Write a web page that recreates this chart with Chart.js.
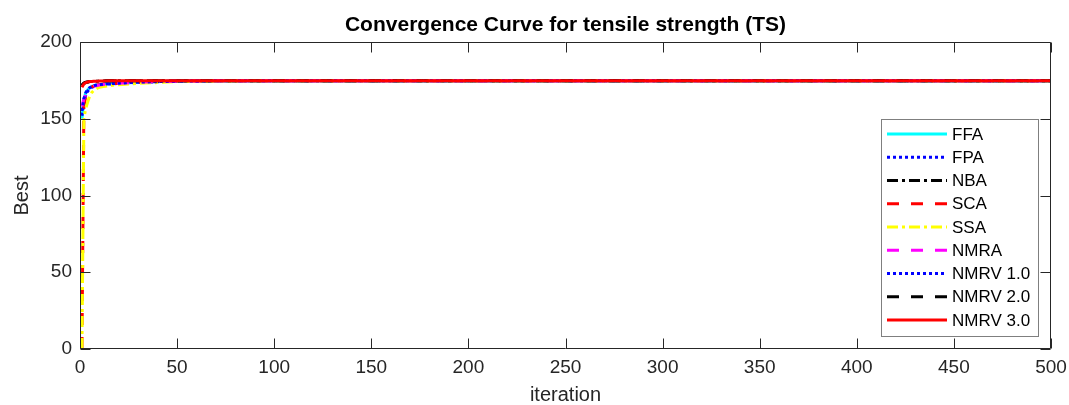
<!DOCTYPE html>
<html>
<head>
<meta charset="utf-8">
<script src="https://cdn.jsdelivr.net/npm/chart.js@4.4.1/dist/chart.umd.min.js"></script>
<style>
html, body { margin: 0; padding: 0; background: #fff; }
</style>
</head>
<body>
<canvas id="convChart" width="1069" height="405"></canvas>
<script>
const iterations = [1, 2, 3, 4, 5, 6, 7, 8, 9, 10, 12, 15, 20, 25, 30, 40, 50, 70, 100, 500];

const ffa   = [150, 163, 167, 169, 170.3, 171, 171.5, 171.8, 172, 172.2, 172.5, 172.8, 173.2, 173.5, 173.8, 174.2, 174.5, 174.7, 174.8, 174.8];
const fpa   = [152, 161, 165.5, 168, 169.5, 170.5, 171, 171.4, 171.7, 172, 172.3, 172.6, 173, 173.4, 173.7, 174.1, 174.4, 174.7, 174.8, 174.8];
const nba   = [172, 173.3, 173.8, 174, 174.2, 174.3, 174.4, 174.5, 174.5, 174.6, 174.6, 174.7, 174.7, 174.8, 174.8, 174.8, 174.8, 174.8, 174.8, 174.8];
const sca   = [0, 158, 165, 168, 169.8, 170.7, 171.3, 171.7, 172, 172.2, 172.5, 172.8, 173.2, 173.5, 173.8, 174.2, 174.5, 174.7, 174.8, 174.8];
const ssa   = [0, 150, 157, 161, 165, 167, 168.3, 169.2, 170, 170.5, 171, 171.6, 172.2, 172.6, 173, 173.6, 174.2, 174.6, 174.8, 174.8];
const nmra  = [158, 163, 166, 168, 169.5, 170.4, 171, 171.4, 171.7, 172, 172.3, 172.7, 173.1, 173.5, 173.8, 174.2, 174.5, 174.7, 174.8, 174.8];
const nmrv1 = [155, 163, 167, 169, 170.3, 171, 171.5, 171.8, 172, 172.2, 172.5, 172.8, 173.2, 173.5, 173.8, 174.2, 174.5, 174.7, 174.8, 174.8];
const nmrv2 = [171.5, 173, 173.6, 174, 174.2, 174.3, 174.4, 174.5, 174.5, 174.6, 174.6, 174.7, 174.7, 174.8, 174.8, 174.8, 174.8, 174.8, 174.8, 174.8];
const nmrv3 = [170.5, 172.8, 173.6, 174, 174.2, 174.3, 174.4, 174.5, 174.5, 174.6, 174.6, 174.7, 174.7, 174.8, 174.8, 174.8, 174.8, 174.8, 174.8, 174.8];

const seriesNames = ['FFA', 'FPA', 'NBA', 'SCA', 'SSA', 'NMRA', 'NMRV 1.0', 'NMRV 2.0', 'NMRV 3.0'];
const seriesValues = [ffa, fpa, nba, sca, ssa, nmra, nmrv1, nmrv2, nmrv3];

const xTicks = [0, 50, 100, 150, 200, 250, 300, 350, 400, 450, 500];
const yTicks = [0, 50, 100, 150, 200];

const FONT = "'Liberation Sans', Arial, Helvetica, sans-serif";
const AXIS_COLOR = '#262626';

// MATLAB-like line styles
const styles = [
    { color: '#00ffff', dash: [] },
    { color: '#0000ff', dash: [3, 3] },
    { color: '#000000', dash: [11, 4, 3, 4] },
    { color: '#ff0000', dash: [12, 12] },
    { color: '#ffff00', dash: [11, 4, 3, 4] },
    { color: '#ff00ff', dash: [12, 12] },
    { color: '#0000ff', dash: [3, 3] },
    { color: '#000000', dash: [12, 12] },
    { color: '#ff0000', dash: [] }
];

const datasets = seriesNames.map((name, i) => ({
    label: name,
    data: iterations.map((it, k) => ({ x: it, y: seriesValues[i][k] })),
    borderColor: styles[i].color,
    borderDash: styles[i].dash,
    borderWidth: 3,
    pointRadius: 0,
    tension: 0,
    fill: false,
    order: seriesNames.length - i   // later series drawn on top, like MATLAB
}));

// axes box with inward ticks on all four sides
const boxPlugin = {
    id: 'matlabBox',
    afterDatasetsDraw(chart) {
        const { ctx, chartArea: a, scales: { x, y } } = chart;
        const L = Math.round(a.left) + 0.5, R = Math.round(a.right) - 0.5;
        const T = Math.round(a.top) + 0.5, B = Math.round(a.bottom) - 0.5;
        ctx.save();
        ctx.strokeStyle = AXIS_COLOR;
        ctx.lineWidth = 1;
        ctx.beginPath();
        ctx.rect(L, T, R - L, B - T);
        xTicks.forEach(v => {
            const px = Math.round(x.getPixelForValue(v)) + 0.5;
            ctx.moveTo(px, B); ctx.lineTo(px, B - 10);
            ctx.moveTo(px, T); ctx.lineTo(px, T + 10);
        });
        yTicks.forEach(v => {
            const py = Math.round(y.getPixelForValue(v)) + 0.5;
            ctx.moveTo(L, py); ctx.lineTo(L + 10, py);
            ctx.moveTo(R, py); ctx.lineTo(R - 10, py);
        });
        ctx.stroke();
        ctx.restore();
    }
};

// legend box inside the axes
const legendPlugin = {
    id: 'insideLegend',
    afterDraw(chart) {
        const { ctx, chartArea: a } = chart;
        const w = 157, h = 217;
        const left = Math.round(a.right) - 13 - w, top = Math.round(a.top) + 77;
        ctx.save();
        ctx.fillStyle = '#ffffff';
        ctx.fillRect(left, top, w, h);
        ctx.strokeStyle = '#7f7f7f';
        ctx.lineWidth = 1;
        ctx.strokeRect(left + 0.5, top + 0.5, w, h);
        ctx.font = '17px ' + FONT;
        ctx.textBaseline = 'middle';
        ctx.fillStyle = '#000000';
        chart.data.datasets.forEach((ds, i) => {
            const cy = top + 15 + i * 23.25;
            ctx.beginPath();
            ctx.strokeStyle = ds.borderColor;
            ctx.lineWidth = 3;
            ctx.setLineDash(ds.borderDash);
            ctx.moveTo(left + 6, cy);
            ctx.lineTo(left + 66, cy);
            ctx.stroke();
            ctx.setLineDash([]);
            ctx.fillText(ds.label, left + 71, cy + 1);
        });
        ctx.restore();
    }
};

new Chart(document.getElementById('convChart'), {
    type: 'line',
    data: { datasets },
    plugins: [boxPlugin, legendPlugin],
    options: {
        responsive: false,
        animation: false,
        devicePixelRatio: 1,
        layout: { padding: 0 },
        plugins: {
            legend: { display: false },
            tooltip: { enabled: false },
            title: {
                display: true,
                text: 'Convergence Curve for tensile strength (TS)',
                fullSize: false,
                color: '#000000',
                font: { family: FONT, size: 21, weight: 'bold', lineHeight: '24px' },
                padding: { top: 13, bottom: 5 }
            }
        },
        scales: {
            x: {
                type: 'linear',
                min: 0,
                max: 500,
                afterBuildTicks: s => { s.ticks = xTicks.map(v => ({ value: v })); },
                afterFit: s => { s.height = 56; s.paddingLeft = 0; s.paddingRight = 18; },
                grid: { display: false, drawTicks: false },
                border: { display: false },
                ticks: { padding: 7, color: AXIS_COLOR, font: { family: FONT, size: 19 } },
                title: {
                    display: true, text: 'iteration', color: AXIS_COLOR,
                    font: { family: FONT, size: 20, lineHeight: 1 },
                    padding: { top: 0, bottom: 0 }
                }
            },
            y: {
                type: 'linear',
                min: 0,
                max: 200,
                afterBuildTicks: s => { s.ticks = yTicks.map(v => ({ value: v })); },
                afterFit: s => { s.width = 80; },
                grid: { display: false, drawTicks: false },
                border: { display: false },
                ticks: { padding: 8, color: AXIS_COLOR, font: { family: FONT, size: 19 } },
                title: {
                    display: true, text: 'Best', color: AXIS_COLOR,
                    font: { family: FONT, size: 20, lineHeight: 1 },
                    padding: { top: 12, bottom: 0 }
                }
            }
        }
    }
});
</script>
</body>
</html>
